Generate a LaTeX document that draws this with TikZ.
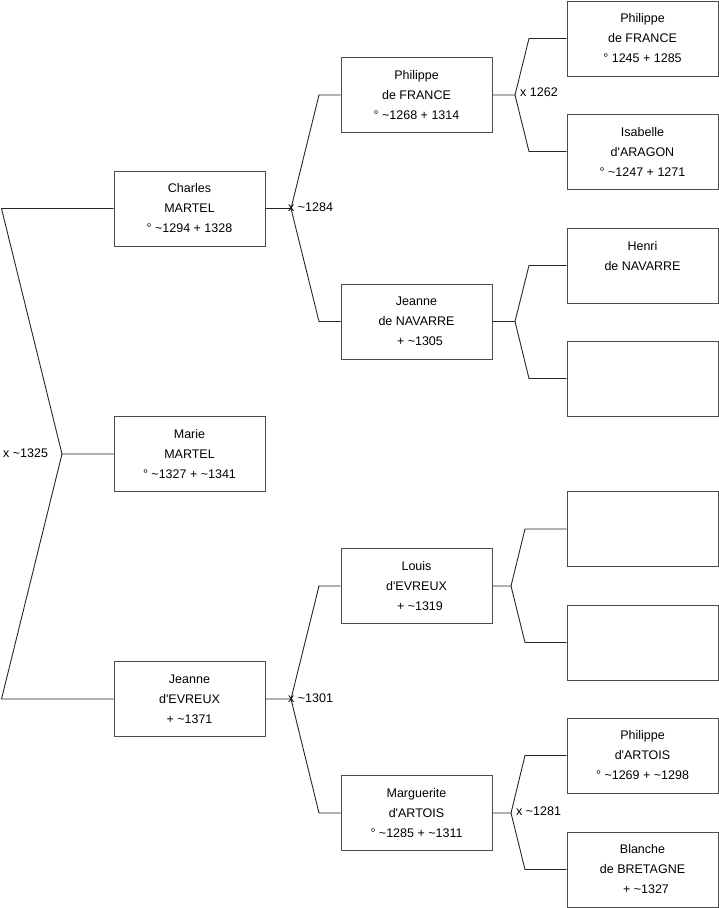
\documentclass[tikz,border=0pt]{standalone}
\usepackage{fontspec}
\setmainfont{Liberation Sans}[Ligatures=TeXOff]
\newcommand{\tl}{\textasciitilde}
\newcommand{\ap}{'}
\tikzset{
  person/.style={draw=black!70, line width=0.9pt, minimum width=151pt, minimum height=75pt,
    inner sep=0pt, align=center, font=\fontsize{12.5}{20}\selectfont, fill=white},
  link/.style={draw=black!85, line width=0.9pt},
  mlabel/.style={anchor=west, inner sep=0pt, font=\fontsize{12.5}{14}\selectfont}
}
\begin{document}
\begin{tikzpicture}[x=1pt,y=-1pt]
\useasboundingbox (0,0) rectangle (719,908);
% generation 1
\node[person] (marie) at (189.5,454) {Marie\\MARTEL\\° \tl1327 + \tl1341};
% generation 2
\node[person] (charles) at (189.5,208.5) {Charles\\MARTEL\\° \tl1294 + 1328};
\node[person] (jevreux) at (189.5,699) {Jeanne\\d\ap EVREUX\\+ \tl1371};
% generation 3
\node[person] (philfr) at (416.5,95) {Philippe\\de FRANCE\\° \tl1268 + 1314};
\node[person] (jnav) at (416.5,321.5) {Jeanne\\de NAVARRE\\\ \ + \tl1305};
\node[person] (louis) at (416.5,586) {Louis\\d\ap EVREUX\\\ \ + \tl1319};
\node[person] (marg) at (416.5,813) {Marguerite\\d\ap ARTOIS\\° \tl1285 + \tl1311};
% generation 4
\node[person] (philfr2) at (642.5,38.5) {Philippe\\de FRANCE\\° 1245 + 1285};
\node[person] (isab) at (642.5,151.5) {Isabelle\\d\ap ARAGON\\° \tl1247 + 1271};
\node[person] (henri) at (642.5,265.5) {Henri\\de NAVARRE\\\mbox{}};
\node[person] (empty1) at (642.5,378.5) {};
\node[person] (empty2) at (642.5,529) {};
\node[person] (empty3) at (642.5,642.5) {};
\node[person] (philart) at (642.5,755.5) {Philippe\\d\ap ARTOIS\\° \tl1269 + \tl1298};
\node[person] (blanche) at (642.5,869.5) {Blanche\\de BRETAGNE\\\ \ + \tl1327};
% fork coordinates
\coordinate (f0) at (62,454);
\coordinate (f0a) at (1.5,208.5);
\coordinate (f0b) at (1.5,699);
\coordinate (f1) at (291,208.5);
\coordinate (f1a) at (319,95);
\coordinate (f1b) at (319,321.5);
\coordinate (f2) at (291,699);
\coordinate (f2a) at (319,586);
\coordinate (f2b) at (319,813);
\coordinate (f3) at (515,95);
\coordinate (f3a) at (529,38.5);
\coordinate (f3b) at (529,151.5);
\coordinate (f4) at (515,321.5);
\coordinate (f4a) at (529,265.5);
\coordinate (f4b) at (529,378.5);
\coordinate (f5) at (511,586);
\coordinate (f5a) at (525,529);
\coordinate (f5b) at (525,642.5);
\coordinate (f6) at (511,813);
\coordinate (f6a) at (525,755.5);
\coordinate (f6b) at (525,869.5);
% connectors
\draw[link] (marie.west) -- (f0) -- (f0a) -- (charles.west);
\draw[link] (f0) -- (f0b) -- (jevreux.west);
\draw[link] (charles.east) -- (f1) -- (f1a) -- (philfr.west);
\draw[link] (f1) -- (f1b) -- (jnav.west);
\draw[link] (jevreux.east) -- (f2) -- (f2a) -- (louis.west);
\draw[link] (f2) -- (f2b) -- (marg.west);
\draw[link] (philfr.east) -- (f3) -- (f3a) -- (philfr2.west);
\draw[link] (f3) -- (f3b) -- (isab.west);
\draw[link] (jnav.east) -- (f4) -- (f4a) -- (henri.west);
\draw[link] (f4) -- (f4b) -- (empty1.west);
\draw[link] (louis.east) -- (f5) -- (f5a) -- (empty2.west);
\draw[link] (f5) -- (f5b) -- (empty3.west);
\draw[link] (marg.east) -- (f6) -- (f6a) -- (philart.west);
\draw[link] (f6) -- (f6b) -- (blanche.west);
% marriage labels
\node[mlabel] (m0) at (3,453) {x \tl1325};
\node[mlabel] (m1) at (288,207.5) {x \tl1284};
\node[mlabel] (m2) at (288,698) {x \tl1301};
\node[mlabel] (m3) at (520,92.5) {x 1262};
\node[mlabel] (m6) at (516,811) {x \tl1281};
\end{tikzpicture}
\end{document}
